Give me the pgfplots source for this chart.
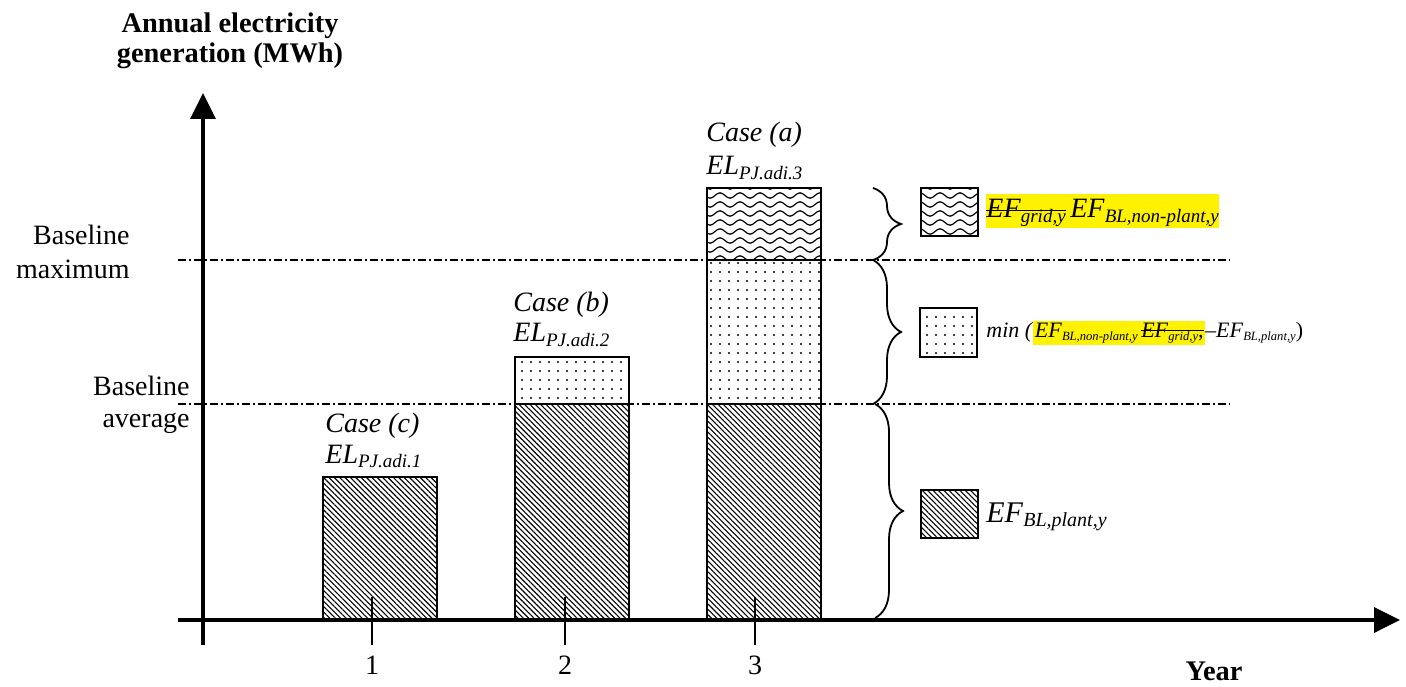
\documentclass[border=0pt]{standalone}
\usepackage{fontspec}
\setmainfont{Liberation Serif}
\usepackage{pgfplots}
\pgfplotsset{compat=1.18}
\usetikzlibrary{patterns,patterns.meta,arrows.meta,decorations.pathreplacing}

% wavy fill for the top layer
\pgfdeclarepatternformonly{waves}{\pgfqpoint{-0.5pt}{0pt}}{\pgfqpoint{10.5pt}{4.5pt}}{\pgfqpoint{10pt}{4.5pt}}{%
  \pgfsetlinewidth{0.6pt}
  \pgfpathmoveto{\pgfqpoint{0pt}{3.6pt}}
  \pgfpathcurveto{\pgfqpoint{1.8pt}{3.6pt}}{\pgfqpoint{3.2pt}{0.9pt}}{\pgfqpoint{5pt}{0.9pt}}
  \pgfpathcurveto{\pgfqpoint{6.8pt}{0.9pt}}{\pgfqpoint{8.2pt}{3.6pt}}{\pgfqpoint{10pt}{3.6pt}}
  \pgfusepath{stroke}}

\newcommand{\lo}[2]{\raisebox{-0.35ex}{\fontsize{#1}{#1}\selectfont\itshape #2}}
% struck-through text (no ulem here)
\newcommand{\strike}[1]{\setbox0\hbox{#1}\rlap{\rule[0.55ex]{\wd0}{0.6pt}}\box0}

\tikzset{
  lbl/.style={font=\fontsize{14}{17}\selectfont, inner sep=0pt},
  lblb/.style={font=\bfseries\fontsize{14.2}{17}\selectfont, inner sep=0pt},
  plantfill/.style={pattern={Lines[angle=-45,distance=1.9pt,line width=0.55pt]}},
  dotfill/.style={pattern={Dots[distance=4.5pt,radius=0.6pt]}},
  wavefill/.style={pattern=waves},
  baseline line/.style={line width=0.7pt, dash pattern=on 4pt off 1.5pt on 1pt off 1.5pt},
}

\begin{document}
\begin{tikzpicture}
\begin{axis}[
  width=703pt, height=343pt, scale only axis,
  xmin=0, xmax=1406, ymin=-66, ymax=620,
  hide axis, clip=false,
  ybar stacked, bar width=114,
]
\path (rel axis cs:0,0) rectangle (rel axis cs:1,1);

% baseline levels
\draw[baseline line] (axis cs:178,360) -- (axis cs:1230,360);
\draw[baseline line] (axis cs:178,216) -- (axis cs:1230,216);

% EF BL,plant,y
\addplot[draw=black, line width=1pt, plantfill] coordinates {(380,143) (571.5,216) (764,216)};
% min(EF BL,non-plant,y - EF BL,plant,y)
\addplot[draw=black, line width=1pt, dotfill] coordinates {(380,0) (571.5,47) (764,144)};
% EF BL,non-plant,y
\addplot[draw=black, line width=1pt, wavefill] coordinates {(380,0) (571.5,0) (764,72)};

% axes
\draw[line width=1.8pt, -{Triangle[length=13pt,width=12.5pt]}] (axis cs:203,-25) -- (axis cs:203,527);
\draw[line width=1.8pt, -{Triangle[length=13pt,width=12.5pt]}] (axis cs:178,0) -- (axis cs:1400,0);
\draw[line width=0.7pt] (axis cs:372,23) -- (axis cs:372,-25);
\draw[line width=0.7pt] (axis cs:565,23) -- (axis cs:565,-25);
\draw[line width=0.7pt] (axis cs:755,23) -- (axis cs:755,-25);
\node[lbl, anchor=base] at (axis cs:372,-54) {1};
\node[lbl, anchor=base] at (axis cs:565,-54) {2};
\node[lbl, anchor=base] at (axis cs:755,-54) {3};
\node[lblb, anchor=base] at (axis cs:1214,-60) {Year};
\node[lblb, anchor=base] at (axis cs:230,587) {Annual electricity};
\node[lblb, anchor=base] at (axis cs:230,557) {generation (MWh)};

% baseline labels
\node[lbl, anchor=base east] at (axis cs:130,375) {Baseline};
\node[lbl, anchor=base east] at (axis cs:130,342) {maximum};
\node[lbl, anchor=base east] at (axis cs:190,225) {Baseline};
\node[lbl, anchor=base east] at (axis cs:190,193) {average};

% case labels
\node[lbl, anchor=base west] at (axis cs:706,478) {\textit{Case (a)}};
\node[lbl, anchor=base west] at (axis cs:706,445) {\textit{EL}\lo{9.5}{PJ.adi.3}};
\node[lbl, anchor=base west] at (axis cs:513,308) {\textit{Case (b)}};
\node[lbl, anchor=base west] at (axis cs:513,278) {\textit{EL}\lo{9.5}{PJ.adi.2}};
\node[lbl, anchor=base west] at (axis cs:325,188) {\textit{Case (c)}};
\node[lbl, anchor=base west] at (axis cs:325,157) {\textit{EL}\lo{9.5}{PJ.adi.1}};

% braces
\draw[line width=0.9pt, decorate, decoration={brace, amplitude=14pt}] (axis cs:873,432) -- (axis cs:873,360);
\draw[line width=0.9pt, decorate, decoration={brace, amplitude=14pt}] (axis cs:873,360) -- (axis cs:873,216);
\draw[line width=0.9pt, decorate, decoration={brace, amplitude=14pt}] (axis cs:875,216) -- (axis cs:875,2);

% key swatches
\draw[line width=1pt, wavefill] (axis cs:921,432) rectangle (axis cs:978,384);
\draw[line width=1pt, dotfill] (axis cs:920,312) rectangle (axis cs:977,263);
\draw[line width=1pt, plantfill] (axis cs:921,130) rectangle (axis cs:978,82);

% key texts
\node[lbl, anchor=base west, fill=yellow, inner xsep=0pt, inner ysep=0pt, text height=12pt, text depth=5pt]
  at (axis cs:986,402) {\strike{\textit{EF}\lo{9.5}{grid,y}}\,\textit{EF}\lo{9.5}{BL,non-plant,y}};
\setlength{\fboxsep}{0.8pt}
\node[font=\fontsize{11}{13}\selectfont, inner sep=0pt, anchor=base west] at (axis cs:986,283)
  {\textit{min (}\colorbox{yellow}{\textit{EF}\lo{6.3}{BL,non-plant,y}\,\strike{\textit{EF}\lo{6.3}{grid,y},}}\textit{–EF}\lo{6.3}{BL,plant,y})};
\node[font=\fontsize{15}{18}\selectfont, inner sep=0pt, anchor=base west] at (axis cs:986,98)
  {\textit{EF}\lo{10}{BL,plant,y}};
\end{axis}
\end{tikzpicture}
\end{document}
